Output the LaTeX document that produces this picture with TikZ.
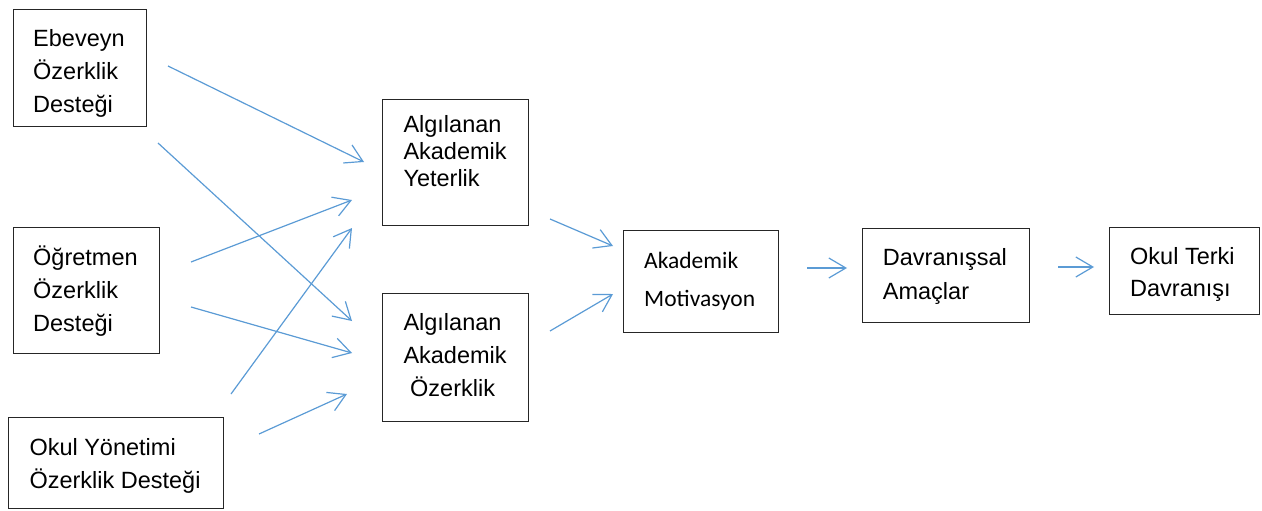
\documentclass[tikz,border=0pt]{standalone}
\usepackage{fontspec}
\setmainfont{Liberation Sans}
\newfontfamily\calib{Carlito}
\usetikzlibrary{arrows.meta}
\definecolor{arrblue}{HTML}{5B9BD5}
\begin{document}
\begin{tikzpicture}[x=1pt,y=-1pt,
  box/.style={draw=black!85, line width=1.3pt, inner sep=0pt, anchor=north west},
  lbl/.style={anchor=base west, inner sep=0pt, font=\fontsize{23.5}{28}\selectfont},
  clbl/.style={anchor=base west, inner sep=0pt, font=\calib\fontsize{23.5}{28}\selectfont},
  conn/.style={draw=arrblue, line width=1.2pt, -{Straight Barb[length=17pt,width=20pt]}}]
\useasboundingbox (0,0) rectangle (1262,511);
% boxes
\node[box, minimum width=133pt, minimum height=117pt] (ebe) at (13,9) {};
\node[box, minimum width=146pt, minimum height=126pt] (ogr) at (13,227) {};
\node[box, minimum width=215pt, minimum height=91pt] (okul) at (8,417) {};
\node[box, minimum width=146pt, minimum height=126pt] (aay) at (382,99) {};
\node[box, minimum width=146pt, minimum height=128pt] (aao) at (382,293) {};
\node[box, minimum width=155pt, minimum height=102pt] (am) at (623,230) {};
\node[box, minimum width=167pt, minimum height=94pt] (da) at (862,228) {};
\node[box, minimum width=150pt, minimum height=87pt] (otd) at (1109,227) {};
% texts
\node[lbl] (t1a) at (33,46.7) {Ebeveyn};
\node[lbl] (t1b) at (33,80) {Özerklik};
\node[lbl] (t1c) at (33,112.7) {Desteği};
\node[lbl] (t2a) at (33,265) {Öğretmen};
\node[lbl] (t2b) at (33,298) {Özerklik};
\node[lbl] (t2c) at (33,331) {Desteği};
\node[lbl] (t3a) at (29.3,455) {Okul Yönetimi};
\node[lbl] (t3b) at (29.3,488) {Özerklik Desteği};
\node[lbl] (t4a) at (403.3,132.3) {Algılanan};
\node[lbl] (t4b) at (403.3,159) {Akademik};
\node[lbl] (t4c) at (403.3,186.7) {Yeterlik};
\node[lbl] (t5a) at (403.3,330.7) {Algılanan};
\node[lbl] (t5b) at (403.3,363.3) {Akademik};
\node[lbl] (t5c) at (410,396) {Özerklik};
\node[clbl] (t6a) at (644,268.3) {Akademik};
\node[clbl] (t6b) at (644,306) {Motivasyon};
\node[lbl] (t7a) at (882.7,265.7) {Davranışsal};
\node[lbl] (t7b) at (882.7,299) {Amaçlar};
\node[lbl] (t8a) at (1130,264) {Okul Terki};
\node[lbl] (t8b) at (1130,296.7) {Davranışı};
% connector ends
\coordinate (s1) at (168,66);  \coordinate (e1) at (364,162);
\coordinate (s2) at (158,143); \coordinate (e2) at (352,321);
\coordinate (s3) at (191,262); \coordinate (e3) at (352,200);
\coordinate (s4) at (191,307); \coordinate (e4) at (352,353);
\coordinate (s5) at (231,394); \coordinate (e5) at (352,228);
\coordinate (s6) at (259,434); \coordinate (e6) at (347,394);
\coordinate (s7) at (550,219); \coordinate (e7) at (613,246);
\coordinate (s8) at (550,331); \coordinate (e8) at (613,294);
\coordinate (s9) at (807,268); \coordinate (e9) at (847,268);
\coordinate (s10) at (1058,267); \coordinate (e10) at (1094,267);
\foreach \i in {1,...,10} { \draw[conn] (s\i) -- (e\i); }
\end{tikzpicture}
\end{document}
